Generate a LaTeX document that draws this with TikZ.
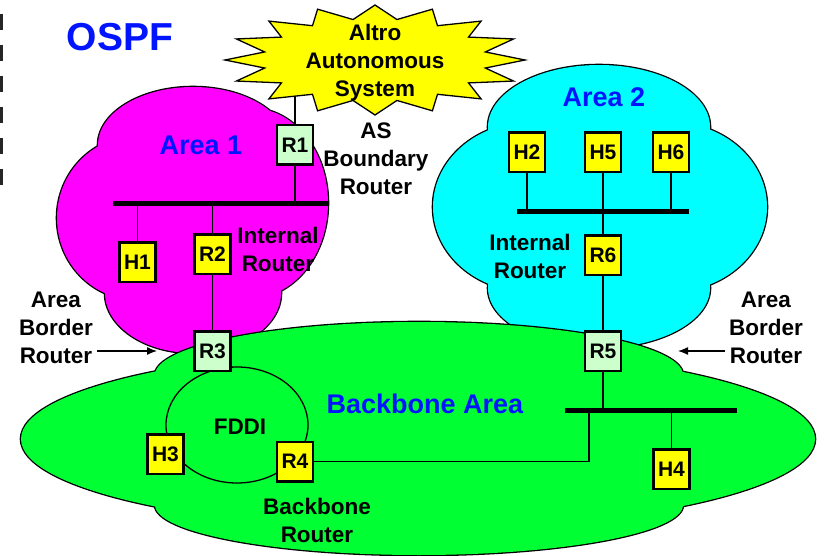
\documentclass[tikz,border=0pt]{standalone}
\usepackage{fontspec}
\setmainfont{Liberation Sans}
\usetikzlibrary{arrows.meta}
\definecolor{magentaA}{RGB}{255,0,255}
\definecolor{cyanA}{RGB}{0,255,255}
\definecolor{greenA}{RGB}{0,255,51}
\definecolor{yellowA}{RGB}{255,255,0}
\definecolor{lgreenA}{RGB}{204,255,204}
\definecolor{blueA}{RGB}{0,20,255}
\begin{document}
\begin{tikzpicture}[x=1pt,y=-1pt,
  thinline/.style={line width=1.3pt},
  busline/.style={line width=5pt},
  hostbox/.style={draw, line width=2.5pt, fill=yellowA, minimum width=36pt, minimum height=39.5pt, inner sep=0pt, font=\fontsize{21}{25}\selectfont\bfseries},
  routerbox/.style={hostbox, fill=lgreenA},
  lbl/.style={align=center, inner sep=0pt, font=\fontsize{22.5}{28}\selectfont\bfseries},
  areatitle/.style={inner sep=0pt, text=blueA, font=\fontsize{27}{32}\selectfont\bfseries},
  pointer/.style={line width=1.3pt, -{Latex[length=10pt,width=8pt]}}
]
\useasboundingbox (0,0) rectangle (825,556);
\fill[white] (0,0) rectangle (825,556);

% left edge ticks
\draw[line width=2.5pt, black!85, dash pattern=on 16pt off 15pt] (1.25,14) -- (1.25,186);

% Area 1 cloud
\draw[line width=2.6pt] (193,145) ellipse [x radius=95pt, y radius=58pt]
  (137,218) ellipse [x radius=80pt, y radius=82pt]
  (251,203) ellipse [x radius=77pt, y radius=95pt]
  (193,293) ellipse [x radius=88pt, y radius=60pt];
\fill[magentaA] (193,145) ellipse [x radius=95pt, y radius=58pt]
  (137,218) ellipse [x radius=80pt, y radius=82pt]
  (251,203) ellipse [x radius=77pt, y radius=95pt]
  (193,293) ellipse [x radius=88pt, y radius=60pt];

% Area 2 cloud
\draw[line width=2.6pt] (599,127) ellipse [x radius=111pt, y radius=62pt]
  (530,207) ellipse [x radius=97pt, y radius=85pt]
  (670,207) ellipse [x radius=97pt, y radius=85pt]
  (599,288) ellipse [x radius=111pt, y radius=60pt];
\fill[cyanA] (599,127) ellipse [x radius=111pt, y radius=62pt]
  (530,207) ellipse [x radius=97pt, y radius=85pt]
  (670,207) ellipse [x radius=97pt, y radius=85pt]
  (599,288) ellipse [x radius=111pt, y radius=60pt];

% Backbone area
\draw[line width=2.6pt] (418,439) ellipse [x radius=397pt, y radius=90pt]
  (419,375) ellipse [x radius=264pt, y radius=53pt]
  (419,505) ellipse [x radius=264pt, y radius=50pt];
\fill[greenA] (418,439) ellipse [x radius=397pt, y radius=90pt]
  (419,375) ellipse [x radius=264pt, y radius=53pt]
  (419,505) ellipse [x radius=264pt, y radius=50pt];

% FDDI ring
\coordinate (ringc) at (237,425);
\draw[thinline] (ringc) ellipse [x radius=71pt, y radius=58pt];

% boxes
\node[routerbox] (R1) at (295,145) {R1};
\node[hostbox] (H1) at (137.5,262.5) {H1};
\node[hostbox] (R2) at (212.5,254.5) {R2};
\node[routerbox] (R3) at (212.5,351) {R3};
\node[hostbox] (H2) at (527,152.5) {H2};
\node[hostbox] (H5) at (603,152.5) {H5};
\node[hostbox] (H6) at (671,152.5) {H6};
\node[hostbox] (R6) at (603,255.5) {R6};
\node[routerbox] (R5) at (603,351) {R5};
\node[hostbox] (H3) at (165.5,454) {H3};
\node[hostbox] (R4) at (295,461.5) {R4};
\node[hostbox] (H4) at (671.5,469) {H4};

% buses
\coordinate (b1w) at (113,203.5); \coordinate (b1e) at (328,203.5);
\coordinate (b2w) at (517,211.5); \coordinate (b2e) at (689,211.5);
\coordinate (b3w) at (565,410); \coordinate (b3e) at (737,410);
\coordinate (b3j) at (589,410);
\draw[busline] (b1w) -- (b1e);
\draw[busline] (b2w) -- (b2e);
\draw[busline] (b3w) -- (b3e);

% connectors
\coordinate (starc) at (375,60);
\draw[thinline] (R1.north) -- (R1.north |- starc);
\draw[thinline] (R1.south) -- (R1.south |- b1w);
\draw[thinline] (H1.north) -- (H1.north |- b1w);
\draw[thinline] (R2.north) -- (R2.north |- b1w);
\draw[thinline] (R2.south) -- (R3.north);
\draw[thinline] (H2.south) -- (H2.south |- b2w);
\draw[thinline] (H5.south) -- (H5.south |- b2w);
\draw[thinline] (H6.south) -- (H6.south |- b2w);
\draw[thinline] (R6.north) -- (R6.north |- b2w);
\draw[thinline] (R6.south) -- (R5.north);
\draw[thinline] (R5.south) -- (R5.south |- b3w);
\draw[thinline] (H4.north) -- (H4.north |- b3w);
\draw[thinline] (R4.east) -| (b3j);

% star
\begin{scope}[shift={(starc)}]
\draw[thinline, fill=yellowA] (0:150 and 55)
  \foreach \i in {1,...,31}{ -- ({\i*11.25}:{150-37.5*mod(\i,2)} and {55-13.75*mod(\i,2)}) } -- cycle;
\end{scope}
\node[lbl] (altro) at (375,63) {Altro\\Autonomous\\System};

% titles
\node[inner sep=0pt, text=blueA, font=\fontsize{39}{44}\selectfont\bfseries] (ospf) at (120,37.5) {OSPF};
\node[areatitle] (area1) at (201,145) {Area 1};
\node[areatitle] (area2) at (604,97) {Area 2};
\node[areatitle] (bba) at (425,403.5) {Backbone Area};

% labels
\node[lbl] (asbr) at (376,159) {AS\\Boundary\\Router};
\node[lbl] (ir1) at (278,249.5) {Internal\\Router};
\node[lbl] (ir2) at (530,256.5) {Internal\\Router};
\node[lbl] (abrl) at (56,328) {Area\\Border\\Router};
\node[lbl] (abrr) at (766,328) {Area\\Border\\Router};
\node[lbl] (fddi) at (240,426.5) {FDDI};
\node[lbl] (bbr) at (317,520.5) {Backbone\\Router};

% pointers
\coordinate (pl1) at (97,351); \coordinate (pl2) at (157,351);
\coordinate (pr1) at (725,351); \coordinate (pr2) at (678,351);
\draw[pointer] (pl1) -- (pl2);
\draw[pointer] (pr1) -- (pr2);
\end{tikzpicture}
\end{document}
